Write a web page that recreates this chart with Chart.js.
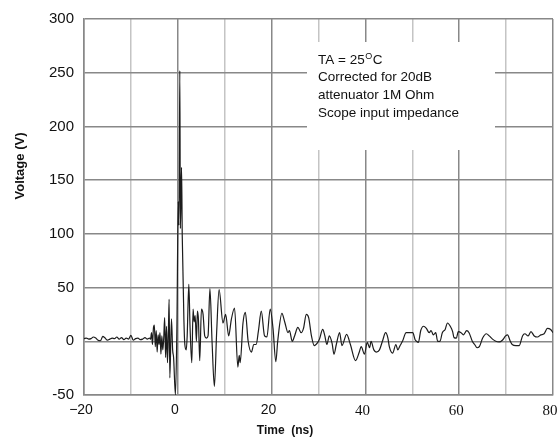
<!DOCTYPE html>
<html>
<head>
<meta charset="utf-8">
<script src="https://cdn.jsdelivr.net/npm/chart.js@4.4.1/dist/chart.umd.min.js"></script>
<style>
html,body{margin:0;padding:0;background:#fff;}
#wrap{width:558px;height:440px;}
</style>
</head>
<body>
<div id="wrap"><canvas id="c" width="558" height="440"></canvas></div>
<script>
// ---- data (time in ns, voltage in V) ----
const times = [
 -20,-19.5,-19,-18.5,-18,-17.5,-17,-16.5,-16,-15.5,-15,-14.5,-14,-13.5,-13,-12.5,-12,-11.5,-11,-10.5,-10,-9.5,-9,-8.5,-8,-7.5,-7,-6.5,-6,
 -5.8,-5.6,-5.4,-5.2,-5.0,-4.8,-4.6,-4.4,-4.2,-4.0,-3.8,-3.6,-3.4,-3.2,-3.0,-2.8,-2.6,-2.4,-2.2,-2.0,
 -1.85,-1.7,-1.35,-1.1,-0.9,-0.5,-0.2,0.1,0.25,0.43,0.55,0.8,0.95,1.3,1.5,1.8,2.0,
 2.35,2.6,2.98,3.26,3.48,3.7,3.97,4.18,4.4,4.68,5.04,5.39,5.74,6.1,6.45,6.85,7.3,7.8,8.3,8.8,
 9.64,10.2,10.85,11.4,12.1,12.8,13.1,13.3,13.9,14.4,15.0,15.7,16.2,16.7,17.2,17.8,18.5,19.0,19.7,
 20.3,20.9,21.3,22.2,22.8,23.5,23.8,24.4,24.9,25.6,26.3,26.8,27.4,27.9,28.5,29.1,29.85,
 30.2,30.9,31.3,31.8,32.3,32.9,33.3,33.8,34.5,35.0,36.0,36.8,37.9,38.7,39.1,39.8,
 40.4,40.9,41.2,41.8,42.3,43.0,43.7,44.3,44.8,45.1,45.8,46.5,46.9,47.4,47.9,48.7,49.5,
 50.1,50.6,50.9,51.3,51.8,52.4,53.0,53.6,54.0,54.5,55.0,55.4,55.9,56.4,57.0,57.5,58.1,58.6,58.9,59.4,59.8,
 60.4,60.9,61.6,62.1,62.8,63.3,63.8,64.3,65.0,65.8,66.4,67.1,67.8,68.5,69.2,69.9,
 70.3,70.9,71.3,72.1,72.8,73.5,74.0,74.7,75.3,76.0,76.7,77.4,78.1,78.8,79.5,80
];
const volts = [
 2.5,3,2,2.5,4,3,1,0.5,4.5,3,1,2,3,2.5,4,2,3.5,1.5,3,2,5.5,1,2.5,3,1.5,2,3.5,2,3,
 2,8,-3,12,15,-5,10,-10,6,-3,8,-12,5,-8,3,22,-15,14,-20,10,
 39,-34,21,-8,-15,-50,10,130,108,252,105,162,98,20,-3,-8,5,
 53,15,-20,30,18,24,0,28,20,-18,30,25,5,3,5,49,0,-42,10,48,
 17,25,5,20,31,-24,-13,-20,17,27,0,-10,-3,-3,10,28,5,4,30,
 12,-19,0,26,18,8,10,0,5,13,8,12,25,22,5,-4,-1,
 2,11,6,-3,5,-2,-12,-3,8,-4,6.5,-3,-18,-10,-5,-12,
 -1,-6,0,-8,-10,-8,1,8,3,-5,-11,-3,-8,-4,0,8,8,
 8,1.5,0,-1,10,14,12,8,10,6,8,0,0,8,11,17,14,9,3.4,3,9,
 8,6,10,8,0,-3,-6,-5,3,7,5,2,0,-0.6,1,5,
 6,0,-3,-4,-4,5,7,5,9,5,4,6,7,12,11,8
];
const xMin = -20, xMax = 80, xStep = 10, xLabelStep = 20;
const yMin = -50, yMax = 300, yStep = 50;
const xTitle = 'Time  (ns)';
const yTitle = 'Voltage (V)';
const noteLines = ['TA = 25', 'Corrected for 20dB', 'attenuator 1M Ohm', 'Scope input impedance'];

const points = times.map((t, i) => ({x: t, y: volts[i]}));

const DARK = '#888888', LIGHT = '#c4c4c4';

const decor = {
  id: 'decor',
  beforeDatasetsDraw(chart) {
    const ctx = chart.ctx;
    ctx.save();
    ctx.fillStyle = '#fff';
    ctx.fillRect(307, 42, 188, 108);
    ctx.fillStyle = '#111';
    ctx.textBaseline = 'alphabetic';
    ctx.textAlign = 'left';
    const f = '13.5px "Liberation Sans", Arial, sans-serif';
    ctx.font = f;
    const x0 = 318, base = [63.5, 81, 98.5, 116.5];
    ctx.fillText(noteLines[0], x0, base[0]);
    let w = ctx.measureText(noteLines[0]).width;
    ctx.font = '9px "Liberation Sans", Arial, sans-serif';
    ctx.fillText('O', x0 + w + 0.5, base[0] - 4.5);
    const w2 = ctx.measureText('O').width;
    ctx.font = f;
    ctx.fillText('C', x0 + w + w2 + 1, base[0]);
    for (let i = 1; i < noteLines.length; i++) ctx.fillText(noteLines[i], x0, base[i]);
    ctx.restore();
  },
  afterDraw(chart) {
    const ctx = chart.ctx;
    ctx.save();
    ctx.fillStyle = '#111';
    ctx.font = 'bold 12px "Liberation Sans", Arial, sans-serif';
    ctx.textAlign = 'center';
    ctx.textBaseline = 'middle';
    ctx.fillText(xTitle, 285, 431);
    ctx.translate(20, 166);
    ctx.rotate(-Math.PI / 2);
    ctx.font = 'bold 13px "Liberation Sans", Arial, sans-serif';
    ctx.fillText(yTitle, 0, 0);
    ctx.restore();
  }
};

new Chart(document.getElementById('c'), {
  type: 'line',
  data: {
    datasets: [{
      data: points,
      borderColor: '#1c1c1c',
      borderWidth: 1.2,
      pointRadius: 0,
      cubicInterpolationMode: 'monotone',
      fill: false
    }]
  },
  options: {
    responsive: false,
    animation: false,
    devicePixelRatio: 1,
    layout: {padding: {top: 19, right: 5, left: 0, bottom: 0}},
    plugins: {legend: {display: false}, tooltip: {enabled: false}, title: {display: false}},
    scales: {
      x: {
        type: 'linear', min: xMin, max: xMax,
        afterFit(s) { s.height = 45; s.paddingLeft = 0; s.paddingRight = 0; },
        ticks: {
          stepSize: xStep, autoSkip: false, maxRotation: 0, padding: 7, color: '#111',
          labelOffset: -3,
          font: (c) => (c.tick && c.tick.value >= 40)
            ? {family: '"Liberation Serif", "Times New Roman", serif', size: 15}
            : {family: '"Liberation Sans", Arial, sans-serif', size: 14},
          callback: (v) => (v % xLabelStep === 0) ? (v < 0 ? '\u2212' + Math.abs(v) : String(v)) : ''
        },
        grid: {
          drawTicks: false, lineWidth: 1.5,
          color: (c) => (c.tick && c.tick.value % xLabelStep === 0) ? DARK : LIGHT
        },
        border: {display: true, color: DARK, width: 1.5}
      },
      y: {
        min: yMin, max: yMax,
        afterFit(s) { s.width = 84; s.paddingTop = 0; s.paddingBottom = 0; },
        ticks: {
          stepSize: yStep, padding: 10, color: '#111',
          font: {family: '"Liberation Sans", Arial, sans-serif', size: 15}
        },
        grid: {drawTicks: false, lineWidth: 1.5, color: DARK},
        border: {display: true, color: DARK, width: 1.5}
      }
    }
  },
  plugins: [decor]
});
</script>
</body>
</html>
